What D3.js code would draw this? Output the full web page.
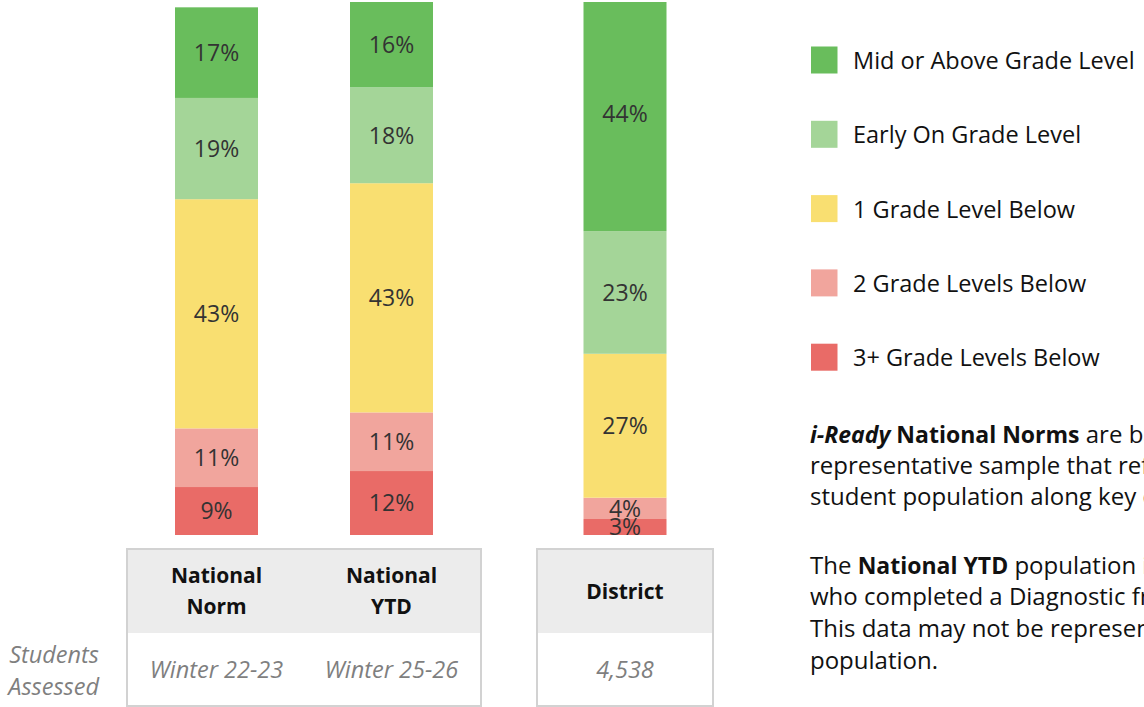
<!DOCTYPE html>
<html>
<head>
<meta charset="utf-8">
<script src="https://cdn.jsdelivr.net/npm/d3@7"></script>
<style>
  html, body { margin: 0; padding: 0; background: #fff; overflow: hidden; }
  svg { display: block; font-family: "Open Sans", "Noto Sans", sans-serif; }
</style>
</head>
<body>
<svg id="chart" width="1144" height="707"></svg>
<script>
// ---- data ----
const categories = ["National Norm", "National YTD", "District"];
const headerLines = [["National", "Norm"], ["National", "YTD"], ["District"]];
const assessed = ["Winter 22-23", "Winter 25-26", "4,538"];
const levels = ["Mid or Above Grade Level", "Early On Grade Level", "1 Grade Level Below", "2 Grade Levels Below", "3+ Grade Levels Below"];
const midAbove   = [17, 16, 44];
const earlyOn    = [19, 18, 23];
const oneBelow   = [43, 43, 27];
const twoBelow   = [11, 11, 4];
const threeBelow = [9, 12, 3];
const rowLabel = ["Students", "Assessed"];

// ---- layout ----
const W = 1144, H = 707;
const colors = ["#69bd5c", "#a4d598", "#f9df71", "#f1a59d", "#e96b67"];
const svg = d3.select("#chart");

const x = d3.scaleOrdinal().domain(categories).range([216.5, 391.5, 625]);
const barW = 83;
const y = d3.scaleLinear().domain([0, 100]).range([535, 2]);

const seriesByLevel = [midAbove, earlyOn, oneBelow, twoBelow, threeBelow];
const rows = categories.map((c, i) => {
  const r = { cat: c };
  levels.forEach((l, j) => r[l] = seriesByLevel[j][i]);
  return r;
});
const stack = d3.stack().keys(levels.slice().reverse());
const stacked = stack(rows);
const color = d3.scaleOrdinal().domain(levels).range(colors);

svg.append("defs").append("clipPath").attr("id", "plotclip")
  .append("rect").attr("x", 0).attr("y", 2).attr("width", W).attr("height", H);

const gBars = svg.append("g").attr("clip-path", "url(#plotclip)");
stacked.forEach(layer => {
  gBars.selectAll(null).data(layer).enter().append("rect")
    .attr("x", d => x(d.data.cat) - barW / 2)
    .attr("width", barW)
    .attr("y", d => y(d[1]))
    .attr("height", d => y(d[0]) - y(d[1]))
    .attr("fill", color(layer.key));
});
stacked.forEach(layer => {
  svg.selectAll(null).data(layer).enter().append("text")
    .attr("x", d => x(d.data.cat))
    .attr("y", d => (y(d[0]) + y(d[1])) / 2)
    .attr("dy", "0.36em")
    .attr("text-anchor", "middle")
    .attr("font-size", 23)
    .attr("fill", "#333")
    .text(d => (d[1] - d[0]) + "%");
});

// ---- table ----
const tables = [
  { x0: 127, x1: 481 },
  { x0: 537, x1: 713 }
];
const tTop = 549, tHead = 633, tBot = 706;
tables.forEach(t => {
  svg.append("rect").attr("x", t.x0).attr("y", tTop).attr("width", t.x1 - t.x0).attr("height", tHead - tTop)
    .attr("fill", "#ececec");
  svg.append("rect").attr("x", t.x0).attr("y", tTop).attr("width", t.x1 - t.x0).attr("height", tBot - tTop)
    .attr("fill", "none").attr("stroke", "#d2d2d2").attr("stroke-width", 2);
});
categories.forEach((c, i) => {
  const lines = headerLines[i];
  const cy = (tTop + tHead) / 2;
  const lh = 31;
  lines.forEach((ln, k) => {
    svg.append("text")
      .attr("x", x(c))
      .attr("y", cy + (k - (lines.length - 1) / 2) * lh)
      .attr("dy", "0.36em")
      .attr("text-anchor", "middle")
      .attr("font-size", 21).attr("font-weight", 700).attr("fill", "#111")
      .text(ln);
  });
  svg.append("text")
    .attr("x", x(c)).attr("y", 670).attr("dy", "0.36em")
    .attr("text-anchor", "middle")
    .attr("font-size", 23.5).attr("font-style", "italic").attr("fill", "#7f7f7f")
    .text(assessed[i]);
});
rowLabel.forEach((t, k) => {
  svg.append("text")
    .attr("x", 99).attr("y", 655 + k * 32).attr("dy", "0.36em")
    .attr("text-anchor", "end")
    .attr("font-size", 23.5).attr("font-style", "italic").attr("fill", "#7f7f7f")
    .text(t);
});

// ---- legend ----
const lg = svg.append("g");
levels.forEach((l, i) => {
  const top = 46.5 + i * 74.3;
  lg.append("rect").attr("x", 811).attr("y", top).attr("width", 26.5).attr("height", 27).attr("fill", color(l));
  lg.append("text").attr("x", 853).attr("y", top + 14).attr("dy", "0.36em")
    .attr("font-size", 23.5).attr("fill", "#111").text(l);
});

// ---- notes ----
const notes = [
  [["i-Ready", 700, "italic"], [" National Norms", 700, "normal"], [" are based on a", 400, "normal"]],
  [["representative sample that reflects the", 400, "normal"]],
  [["student population along key demographics.", 400, "normal"]],
  null,
  [["The ", 400, "normal"], ["National YTD", 700, "normal"], [" population includes", 400, "normal"]],
  [["who completed a Diagnostic from", 400, "normal"]],
  [["This data may not be representative", 400, "normal"]],
  [["population.", 400, "normal"]]
];
const noteY = [435, 466, 497, 0, 566, 597, 629, 661];
notes.forEach((parts, i) => {
  if (!parts) return;
  const t = svg.append("text").attr("x", 810).attr("y", noteY[i]).attr("dy", "0.36em")
    .attr("font-size", 23.5).attr("fill", "#111");
  parts.forEach(p => t.append("tspan")
    .attr("font-weight", p[1]).attr("font-style", p[2])
    .attr("font-size", p[1] === 700 ? 23 : 24)
    .text(p[0]));
});
</script>
</body>
</html>
